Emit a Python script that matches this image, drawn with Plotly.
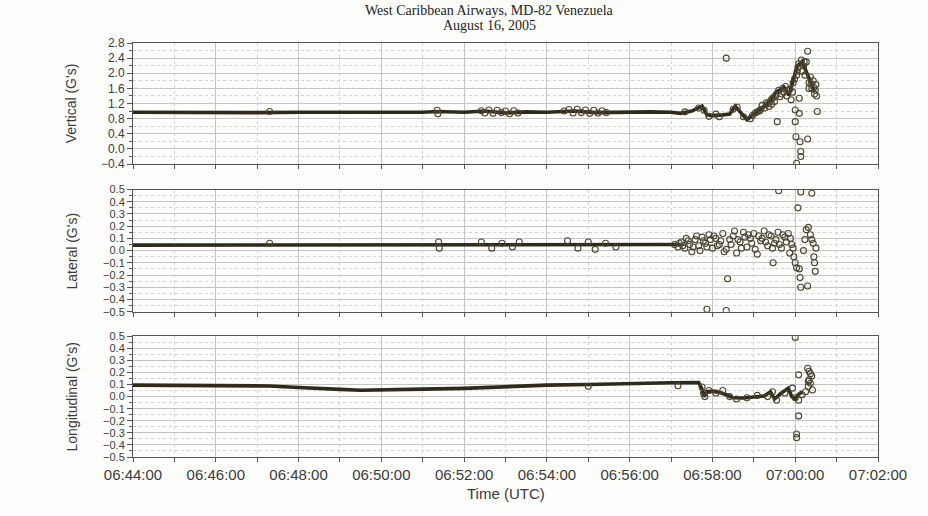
import pandas as pd
import plotly.graph_objects as go

DATE = "2005-08-16 "

# ---------------- Vertical (G's) ----------------
vert_line_t = ["06:44:00", "06:45:00", "06:46:00", "06:47:00", "06:48:00", "06:49:00", "06:50:00",
               "06:51:00", "06:51:21", "06:52:00", "06:52:30", "06:53:00", "06:53:30", "06:54:00",
               "06:54:40", "06:55:10", "06:55:40", "06:56:00", "06:56:30", "06:57:00", "06:57:14",
               "06:57:30", "06:57:45", "06:57:52", "06:58:00", "06:58:15", "06:58:25", "06:58:33",
               "06:58:40", "06:58:50", "06:59:00", "06:59:14", "06:59:24", "06:59:32", "06:59:44",
               "06:59:51", "06:59:58", "07:00:03", "07:00:10", "07:00:15", "07:00:20", "07:00:25",
               "07:00:28"]
vert_line_v = [0.97, 0.96, 0.97, 0.96, 0.97, 0.96, 0.97,
               0.97, 0.99, 0.97, 1.00, 0.95, 0.98, 0.97,
               1.00, 0.96, 0.97, 0.97, 0.98, 0.97, 0.94,
               1.00, 1.13, 0.90, 0.88, 0.90, 0.92, 1.13,
               0.97, 0.77, 0.92, 1.10, 1.28, 1.50, 1.62,
               1.42, 1.88, 2.20, 2.30, 2.10, 1.85, 1.65,
               1.50]
vert_pts_t = ["06:47:18", "06:51:21", "06:51:22",
              "06:52:25", "06:52:30", "06:52:36", "06:52:42", "06:52:48", "06:52:54", "06:53:00", "06:53:06",
              "06:53:12", "06:53:18",
              "06:54:25", "06:54:32", "06:54:38", "06:54:44", "06:54:50", "06:54:56", "06:55:02", "06:55:08",
              "06:55:14", "06:55:20", "06:55:26",
              "06:57:20", "06:57:40", "06:57:48", "06:57:55", "06:58:05", "06:58:10", "06:58:20", "06:58:30",
              "06:58:36", "06:58:45", "06:58:55", "06:59:05", "06:59:10", "06:59:20", "06:59:22", "06:59:28",
              "06:59:30", "06:59:34", "06:59:36", "06:59:40", "06:59:46", "06:59:50", "06:59:54", "06:59:57",
              "07:00:00", "07:00:00", "07:00:01", "07:00:02", "07:00:03", "07:00:05", "07:00:06", "07:00:06",
              "07:00:07", "07:00:08", "07:00:08", "07:00:09", "07:00:12", "07:00:14", "07:00:16", "07:00:18",
              "07:00:18", "07:00:20", "07:00:22", "07:00:24", "07:00:26", "07:00:28", "07:00:30", "07:00:31",
              "07:00:32",
              "06:58:58", "06:59:02", "06:59:08", "06:59:12", "06:59:16", "06:59:18", "06:59:25", "06:59:26",
              "06:59:32", "06:59:38", "06:59:42", "06:59:44", "06:59:48", "06:59:52", "06:59:56", "06:59:59",
              "07:00:02", "07:00:04", "07:00:10", "07:00:13", "07:00:20", "07:00:23", "07:00:27", "07:00:29"]
vert_pts_v = [0.99, 1.02, 0.93,
              1.01, 0.95, 1.03, 0.94, 1.02, 0.96, 1.00, 0.93,
              1.01, 0.95,
              1.00, 1.04, 0.95, 1.05, 0.96, 1.03, 0.94, 1.02,
              0.95, 1.01, 0.96,
              0.98, 1.08, 1.02, 0.86, 0.92, 0.85, 2.40, 1.05,
              1.10, 0.85, 0.80, 0.98, 1.05, 1.20, 1.12, 1.35,
              1.25, 0.72, 1.55, 1.45, 1.65, 1.55, 1.30, 1.75,
              1.03, 0.72, 0.32, -0.38, 2.05, 2.25, 1.34, 0.94,
              0.19, -0.07, -0.20, 2.35, 2.20, 1.95, 2.30, 2.58,
              0.26, 1.75, 1.90, 1.60, 1.80, 1.45, 1.70, 1.40,
              0.99,
              0.88, 0.95, 1.00, 1.15, 1.08, 1.22, 1.30, 1.18,
              1.42, 1.38, 1.60, 1.50, 1.40, 1.58, 1.50, 1.85,
              1.95, 2.15, 2.05, 2.30, 1.60, 1.72, 1.62, 1.55]

# ---------------- Lateral (G's) ----------------
lat_line_t = ["06:44:00", "06:46:00", "06:48:00", "06:50:00", "06:51:22", "06:52:00", "06:53:00",
              "06:54:00", "06:55:00", "06:56:00", "06:57:00", "06:57:14"]
lat_line_v = [0.045, 0.045, 0.046, 0.045, 0.047, 0.046, 0.048,
              0.046, 0.048, 0.046, 0.047, 0.05]
lat_pts_t = ["06:47:18", "06:51:23", "06:51:24",
             "06:52:25", "06:52:40", "06:52:55", "06:53:10", "06:53:20",
             "06:54:30", "06:54:45", "06:55:00", "06:55:10", "06:55:25", "06:55:40",
             "06:57:05", "06:57:10", "06:57:15", "06:57:20", "06:57:25", "06:57:30", "06:57:35", "06:57:40",
             "06:57:45", "06:57:50", "06:57:55", "06:58:00", "06:58:05", "06:58:10", "06:58:15", "06:58:20",
             "06:58:22", "06:58:25", "06:58:30", "06:58:35", "06:58:40", "06:58:45", "06:58:50", "06:58:55",
             "06:59:00", "06:59:05", "06:59:10", "06:59:15", "06:59:20", "06:59:25", "06:59:28", "06:59:30",
             "06:59:35", "06:59:40", "06:59:45", "06:59:50", "06:59:52", "06:59:55", "06:59:58", "07:00:00",
             "07:00:02", "07:00:04", "07:00:06", "07:00:07", "07:00:08", "07:00:12", "07:00:14", "07:00:16",
             "07:00:18", "07:00:19", "07:00:22", "07:00:24", "07:00:26", "07:00:27", "07:00:28", "07:00:29",
             "07:00:30", "06:57:52", "06:58:20", "06:59:36", "07:00:08", "07:00:24",
             "06:57:12", "06:57:17", "06:57:22", "06:57:27", "06:57:32", "06:57:37", "06:57:42", "06:57:47",
             "06:57:52", "06:57:57", "06:58:02", "06:58:07", "06:58:12", "06:58:17", "06:58:27", "06:58:32",
             "06:58:37", "06:58:42", "06:58:47", "06:58:52", "06:58:57", "06:59:02", "06:59:07", "06:59:12",
             "06:59:17", "06:59:22", "06:59:27", "06:59:32", "06:59:37", "06:59:42", "06:59:47", "06:59:53",
             "06:59:57"]
lat_pts_v = [0.06, 0.07, 0.02,
             0.07, 0.02, 0.06, 0.03, 0.07,
             0.08, 0.02, 0.07, 0.01, 0.06, 0.03,
             0.05, 0.03, 0.07, 0.02, 0.08, -0.01, 0.09, 0.04,
             0.11, 0.06, 0.13, 0.02, 0.10, 0.05, 0.14, 0.01,
             -0.23, 0.09, 0.12, -0.02, 0.07, 0.15, 0.03, 0.10,
             0.14, -0.03, 0.08, 0.16, 0.04, 0.12, -0.10, 0.06,
             0.15, 0.02, 0.11, 0.14, -0.02, 0.05, -0.05, -0.10,
             -0.14, 0.35, -0.15, -0.22, -0.30, 0.00, 0.09, 0.17,
             -0.29, 0.19, 0.13, 0.09, 0.06, -0.05, -0.10, -0.17,
             0.02, -0.48, -0.49, 0.49, 0.48, 0.47,
             0.06, 0.04, 0.10, 0.05, 0.03, 0.12, 0.00, 0.08,
             0.03, 0.09, 0.12, 0.04, 0.08, -0.01, 0.05, 0.16,
             0.09, 0.02, 0.11, 0.13, 0.06, 0.01, 0.12, 0.10,
             0.07, 0.13, 0.02, 0.09, 0.05, 0.13, 0.07, 0.10,
             0.02]

# ---------------- Longitudinal (G's) ----------------
lon_line_t = ["06:44:00", "06:45:00", "06:46:00", "06:47:00", "06:47:18", "06:48:00", "06:48:30",
              "06:49:00", "06:49:30", "06:50:00", "06:51:00", "06:52:00", "06:52:30", "06:53:00",
              "06:54:00", "06:55:00", "06:56:00", "06:57:00", "06:57:40", "06:57:45", "06:57:48",
              "06:57:52", "06:58:00", "06:58:10", "06:58:20", "06:58:30", "06:58:45", "06:59:00",
              "06:59:15", "06:59:24", "06:59:30", "06:59:40", "06:59:50", "06:59:55", "07:00:00",
              "07:00:05", "07:00:10"]
lon_line_v = [0.095, 0.095, 0.093, 0.090, 0.088, 0.075, 0.065,
              0.060, 0.053, 0.058, 0.062, 0.068, 0.075, 0.085,
              0.095, 0.100, 0.110, 0.115, 0.117, 0.060, 0.000,
              0.040, 0.045, 0.035, 0.015, -0.010, -0.012, 0.000,
              0.005, 0.040, -0.020, 0.030, 0.070, 0.000, -0.020,
              0.020, 0.040]
lon_pts_t = ["06:55:00", "06:57:10", "06:57:45", "06:57:47", "06:57:49", "06:57:55", "06:58:05",
             "06:58:15", "06:58:25", "06:58:35", "06:58:50", "06:59:05", "06:59:20", "06:59:27",
             "06:59:33", "06:59:45", "06:59:56", "07:00:00", "07:00:05", "07:00:10", "07:00:15",
             "07:00:05", "07:00:05", "07:00:02", "07:00:02", "07:00:18", "07:00:20", "07:00:22",
             "07:00:24", "07:00:20", "07:00:22", "07:00:19", "07:00:25", "07:00:19", "07:00:00"]
lon_pts_v = [0.085, 0.090, 0.080, 0.030, 0.000, 0.050, 0.030,
             0.050, 0.000, -0.020, -0.010, 0.010, 0.000, 0.040,
             -0.030, 0.030, 0.070, -0.010, -0.030, 0.015, 0.040,
             0.180, -0.160, -0.310, -0.340, 0.235, 0.210, 0.190,
             0.170, 0.140, 0.110, 0.085, 0.055, 0.125, 0.490]

panel_titles = ["Vertical (G's)", "Lateral (G's)", "Longitudinal (G's)"]
x_tick_labels = ["06:44:00", "06:46:00", "06:48:00", "06:50:00", "06:52:00",
                 "06:54:00", "06:56:00", "06:58:00", "07:00:00", "07:02:00"]


def ts(lst):
    return pd.to_datetime([DATE + t for t in lst])


LINE_C = "#2f2b1a"
MARK_C = "#4a4430"

fig = go.Figure()
series = [(vert_line_t, vert_line_v, vert_pts_t, vert_pts_v),
          (lat_line_t, lat_line_v, lat_pts_t, lat_pts_v),
          (lon_line_t, lon_line_v, lon_pts_t, lon_pts_v)]
for i, (lt, lv, pt, pv) in enumerate(series):
    xa = "x" if i == 0 else f"x{i+1}"
    ya = "y" if i == 0 else f"y{i+1}"
    fig.add_trace(go.Scatter(x=ts(lt), y=lv, mode="lines",
                             line=dict(color=LINE_C, width=3.6),
                             xaxis=xa, yaxis=ya, showlegend=False))
    fig.add_trace(go.Scatter(x=ts(pt), y=pv, mode="markers",
                             marker=dict(symbol="circle-open", size=6, color=MARK_C,
                                         line=dict(width=1.1, color=MARK_C)),
                             xaxis=xa, yaxis=ya, showlegend=False))

x0 = pd.Timestamp(DATE + "06:44:00")
x1 = pd.Timestamp(DATE + "07:02:00")
tickvals = ts(x_tick_labels)

domains = [[0.7077, 1.0], [0.351, 0.6461], [0.0, 0.2918]]
yranges = [[-0.4, 2.8], [-0.5, 0.5], [-0.5, 0.5]]
ydticks = [0.4, 0.1, 0.1]
yfont = [12, 11, 11]

AX_C = "#555555"
GRID_C = "#c4c4c4"
MINOR_C = "#d2d2d2"
TXT_C = "#3a3a3a"

layout = dict(
    width=928, height=516,
    margin=dict(l=133, r=50, t=43, b=59),
    paper_bgcolor="#fdfdfb", plot_bgcolor="#fdfdfb",
    font=dict(family="Liberation Sans, Arial", color=TXT_C),
)
for i in range(3):
    xk = "xaxis" if i == 0 else f"xaxis{i+1}"
    yk = "yaxis" if i == 0 else f"yaxis{i+1}"
    ya = "y" if i == 0 else f"y{i+1}"
    layout[xk] = dict(
        type="date", range=[x0, x1], anchor=ya,
        tickmode="array", tickvals=tickvals, ticktext=x_tick_labels,
        showticklabels=(i == 2), tickfont=dict(size=15, color=TXT_C),
        ticks="outside", ticklen=4, tickcolor=AX_C,
        showline=True, linecolor=AX_C, linewidth=1, mirror=True,
        showgrid=True, gridcolor=GRID_C, gridwidth=1,
        minor=dict(dtick=60000, showgrid=True, gridcolor=MINOR_C, griddash="dot",
                   ticks="outside", ticklen=4, tickcolor=AX_C),
        zeroline=False,
    )
    layout[yk] = dict(
        domain=domains[i], range=yranges[i], anchor="x" if i == 0 else f"x{i+1}",
        tick0=0, dtick=ydticks[i], tickformat=".1f",
        tickfont=dict(size=yfont[i], color=TXT_C),
        ticks="outside", ticklen=5, tickcolor=AX_C,
        showline=True, linecolor=AX_C, linewidth=1, mirror=True,
        showgrid=True, gridcolor=GRID_C, gridwidth=1,
        minor=dict(dtick=ydticks[i] / 2, showgrid=True, gridcolor=MINOR_C, griddash="dot",
                   ticks="outside", ticklen=3, tickcolor=AX_C),
        zeroline=False,
    )
fig.update_layout(**layout)

annos = []
ycent = [0.854, 0.4985, 0.146]
for i, t in enumerate(panel_titles):
    annos.append(dict(text=t, xref="paper", yref="paper", x=-0.082, y=ycent[i],
                      textangle=-90, showarrow=False, xanchor="center", yanchor="middle",
                      font=dict(size=14, color=TXT_C, family="Liberation Sans, Arial")))
annos.append(dict(text="West Caribbean Airways, MD-82 Venezuela", xref="paper", yref="paper",
                  x=0.479, y=1.0 + (43 - 10) / 414, showarrow=False, xanchor="center", yanchor="middle",
                  font=dict(size=14, color="#222222", family="Liberation Serif, Times New Roman")))
annos.append(dict(text="August 16, 2005", xref="paper", yref="paper",
                  x=0.479, y=1.0 + (43 - 25) / 414, showarrow=False, xanchor="center", yanchor="middle",
                  font=dict(size=14, color="#222222", family="Liberation Serif, Times New Roman")))
annos.append(dict(text="Time (UTC)", xref="paper", yref="paper",
                  x=0.5, y=-(493 - 457) / 414, showarrow=False, xanchor="center", yanchor="middle",
                  font=dict(size=15, color=TXT_C, family="Liberation Sans, Arial")))
fig.update_layout(annotations=annos)

fig.write_html("out.html", config={"displayModeBar": False},
               post_script="document.body.style.margin='0px';")
